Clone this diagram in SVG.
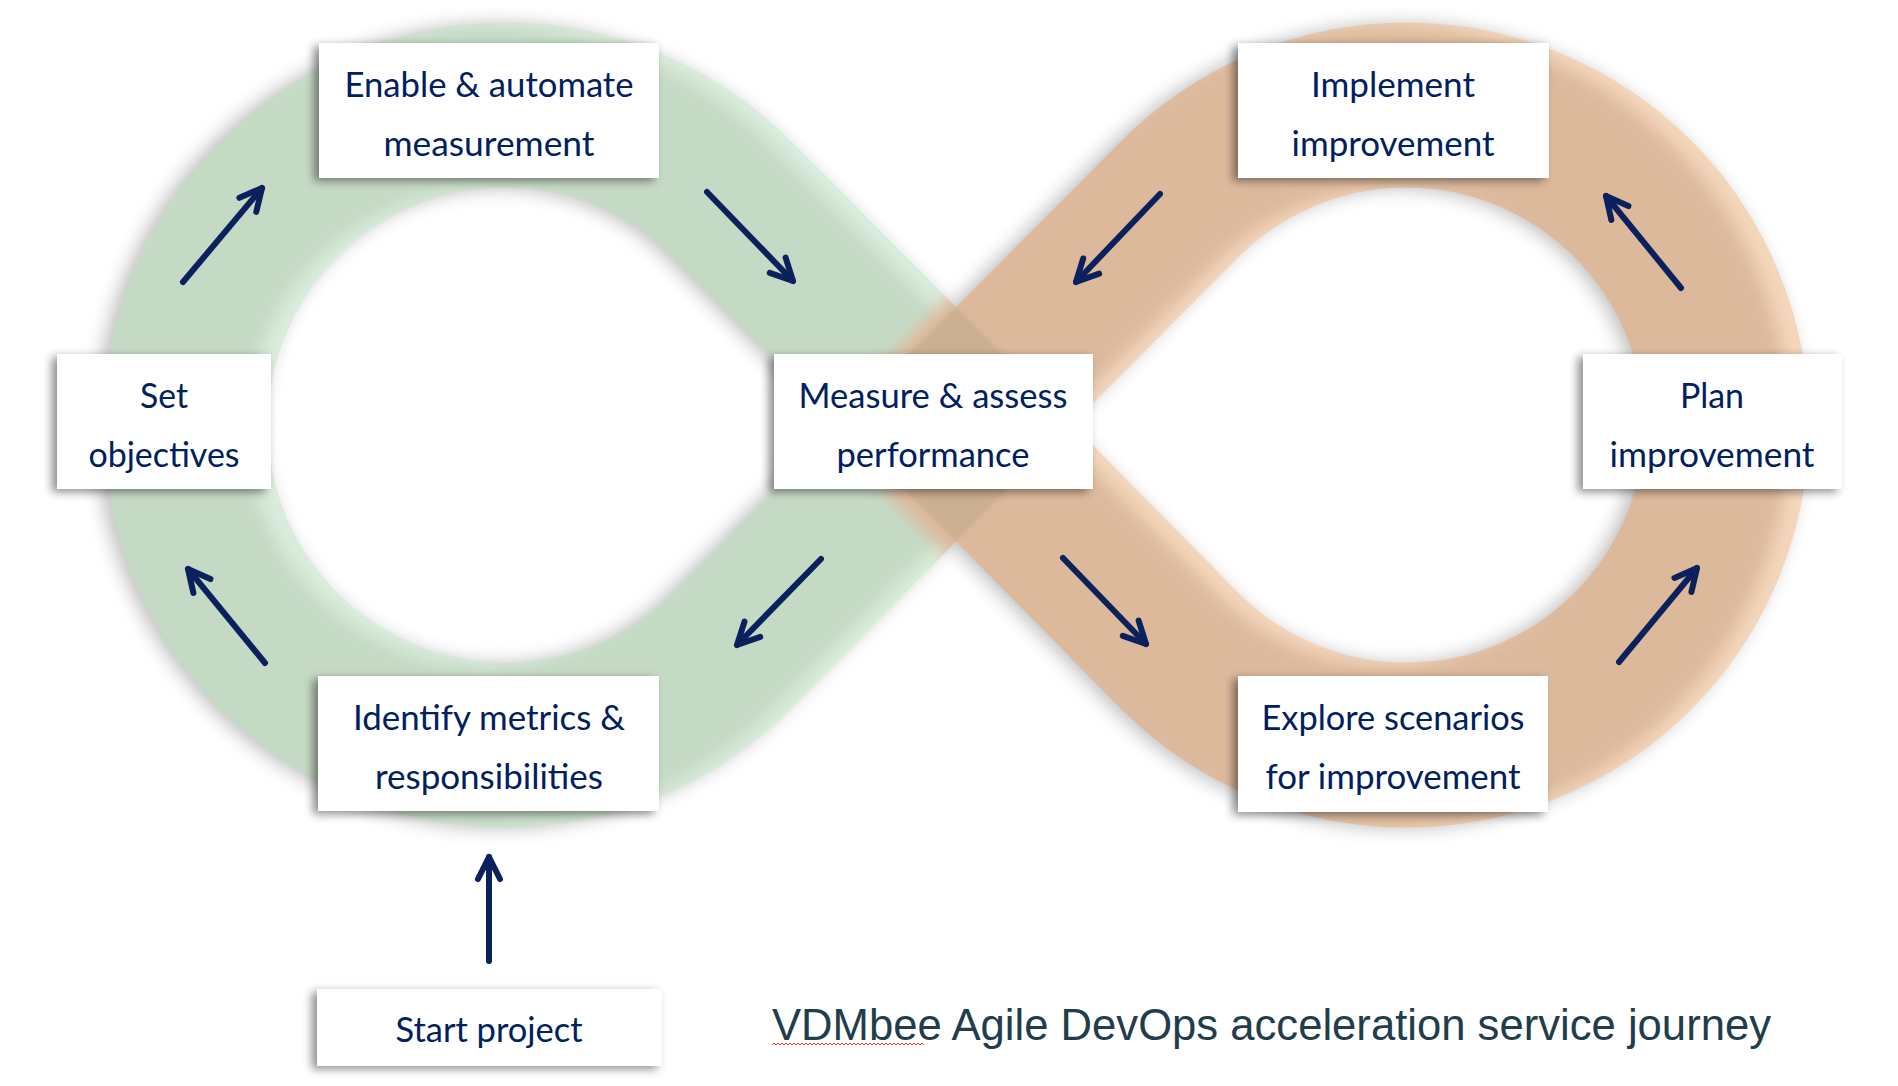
<svg xmlns="http://www.w3.org/2000/svg" width="1898" height="1086" viewBox="0 0 1898 1086">
<style>
.box{fill:#ffffff;filter:url(#boxShadow)}
.lbl{font-family:Lato,"Open Sans",sans-serif;font-size:34px;fill:#002060;text-anchor:middle}
.arr{stroke:#0A215E;stroke-width:6;stroke-linecap:round;fill:none;marker-end:url(#head)}
.title{font-family:"Liberation Sans",Arial,sans-serif;font-size:43.5px;fill:#213D4C}
.band{fill:none;stroke-width:165;stroke-linejoin:miter}
</style>
<defs>
<filter id="boxShadow" x="-20%" y="-30%" width="140%" height="160%">
<feDropShadow dx="-5" dy="3" stdDeviation="5" flood-color="#000" flood-opacity="0.45"/>
</filter>
<filter id="blurBig" x="-20%" y="-20%" width="140%" height="140%"><feGaussianBlur stdDeviation="9"/></filter>
<filter id="blurMid" x="-20%" y="-20%" width="140%" height="140%"><feGaussianBlur stdDeviation="8"/></filter>
<filter id="blurSmall" x="-20%" y="-20%" width="140%" height="140%"><feGaussianBlur stdDeviation="2"/></filter>
<marker id="head" markerUnits="userSpaceOnUse" markerWidth="40" markerHeight="40" viewBox="-30 -20 40 40" refX="0" refY="0" orient="auto" overflow="visible">
<path d="M -22 -11 L 0 0 L -22 11" fill="none" stroke="#0A215E" stroke-width="6" stroke-linecap="round" stroke-linejoin="round"/>
</marker>
<path id="gPath" d="M 956 424 L 733 200 A 320 320 0 1 0 733 650 Z"/>
<path id="oPath" d="M 956 424 L 1179 200 A 320 320 0 1 1 1179 650 Z"/>
<mask id="bandMask" maskUnits="userSpaceOnUse" x="0" y="0" width="1898" height="1086">
<rect x="0" y="0" width="1898" height="1086" fill="#000"/>
<use href="#gPath" class="band" stroke="#fff"/>
<use href="#oPath" class="band" stroke="#fff"/>
</mask>
</defs>
<rect x="0" y="0" width="1898" height="1086" fill="#ffffff"/>

<g id="infinity-band">
<g filter="url(#blurBig)" opacity="0.55" transform="translate(-7,1)">
<use href="#gPath" class="band" stroke="#8c8c8c"/>
<use href="#oPath" class="band" stroke="#8c8c8c"/>
</g>
<g mask="url(#bandMask)">
<use href="#gPath" class="band" stroke="#DAECDB"/>
<use href="#oPath" class="band" stroke="#F4D6BB"/>
<g filter="url(#blurMid)" transform="translate(-20,3)">
<use href="#gPath" class="band" stroke="#C5DAC5"/>
<use href="#oPath" class="band" stroke="#DDB99C"/>
</g>
<polygon points="956,307 1073,424 956,541 839,424" fill="#CBB090" filter="url(#blurSmall)"/>
</g>
</g>

<g id="connectors">
<line class="arr" x1="183" y1="282" x2="262" y2="188"/>
<line class="arr" x1="707" y1="192" x2="793" y2="281"/>
<line class="arr" x1="821" y1="559" x2="737" y2="645"/>
<line class="arr" x1="265" y1="663" x2="188" y2="569"/>
<line class="arr" x1="489" y1="961" x2="489" y2="857"/>
<line class="arr" x1="1063" y1="558" x2="1146" y2="644"/>
<line class="arr" x1="1619" y1="662" x2="1697" y2="568"/>
<line class="arr" x1="1681" y1="288" x2="1606" y2="196"/>
<line class="arr" x1="1160" y1="194" x2="1076" y2="282"/>
</g>

<g id="node-enable">
<rect class="box" x="319" y="43" width="340" height="135"/>
<text class="lbl" x="489" y="97" textLength="289" lengthAdjust="spacingAndGlyphs">Enable &amp; automate</text>
<text class="lbl" x="489" y="156" textLength="211" lengthAdjust="spacingAndGlyphs">measurement</text>
</g>
<g id="node-set">
<rect class="box" x="57" y="354" width="214" height="135"/>
<text class="lbl" x="164" y="408" textLength="48" lengthAdjust="spacingAndGlyphs">Set</text>
<text class="lbl" x="164" y="467" textLength="151" lengthAdjust="spacingAndGlyphs">objectives</text>
</g>
<g id="node-measure">
<rect class="box" x="774" y="354" width="319" height="135"/>
<text class="lbl" x="933" y="408" textLength="269" lengthAdjust="spacingAndGlyphs">Measure &amp; assess</text>
<text class="lbl" x="933" y="467" textLength="193" lengthAdjust="spacingAndGlyphs">performance</text>
</g>
<g id="node-identify">
<rect class="box" x="318" y="676" width="341" height="135"/>
<text class="lbl" x="489" y="730" textLength="272" lengthAdjust="spacingAndGlyphs">Identify metrics &amp;</text>
<text class="lbl" x="489" y="789" textLength="228" lengthAdjust="spacingAndGlyphs">responsibilities</text>
</g>
<g id="node-start">
<rect class="box" x="317" y="989" width="345" height="77"/>
<text class="lbl" x="489" y="1042" textLength="187" lengthAdjust="spacingAndGlyphs">Start project</text>
</g>
<g id="node-implement">
<rect class="box" x="1238" y="43" width="311" height="135"/>
<text class="lbl" x="1393" y="97" textLength="164" lengthAdjust="spacingAndGlyphs">Implement</text>
<text class="lbl" x="1393" y="156" textLength="203" lengthAdjust="spacingAndGlyphs">improvement</text>
</g>
<g id="node-plan">
<rect class="box" x="1583" y="354" width="259" height="135"/>
<text class="lbl" x="1712" y="408" textLength="64" lengthAdjust="spacingAndGlyphs">Plan</text>
<text class="lbl" x="1712" y="467" textLength="205" lengthAdjust="spacingAndGlyphs">improvement</text>
</g>
<g id="node-explore">
<rect class="box" x="1238" y="676" width="310" height="136"/>
<text class="lbl" x="1393" y="730" textLength="263" lengthAdjust="spacingAndGlyphs">Explore scenarios</text>
<text class="lbl" x="1393" y="789" textLength="255" lengthAdjust="spacingAndGlyphs">for improvement</text>
</g>

<g id="title">
<text class="title" x="772" y="1040" textLength="999" lengthAdjust="spacingAndGlyphs">VDMbee Agile DevOps acceleration service journey</text>
<path d="M772 1045 l2 -2 l2 2 l2 -2 l2 2 l2 -2 l2 2 l2 -2 l2 2 l2 -2 l2 2 l2 -2 l2 2 l2 -2 l2 2 l2 -2 l2 2 l2 -2 l2 2 l2 -2 l2 2 l2 -2 l2 2 l2 -2 l2 2 l2 -2 l2 2 l2 -2 l2 2 l2 -2 l2 2 l2 -2 l2 2 l2 -2 l2 2 l2 -2 l2 2 l2 -2 l2 2 l2 -2 l2 2 l2 -2 l2 2 l2 -2 l2 2 l2 -2 l2 2 l2 -2 l2 2 l2 -2 l2 2 l2 -2 l2 2 l2 -2 l2 2 l2 -2 l2 2 l2 -2 l2 2 l2 -2 l2 2 l2 -2 l2 2 l2 -2 l2 2 l2 -2 l2 2 l2 -2 l2 2 l2 -2 l2 2 l2 -2 l2 2 l2 -2 l2 2 l2 -2 l2 2" fill="none" stroke="#E03030" stroke-width="1"/>
</g>
</svg>
